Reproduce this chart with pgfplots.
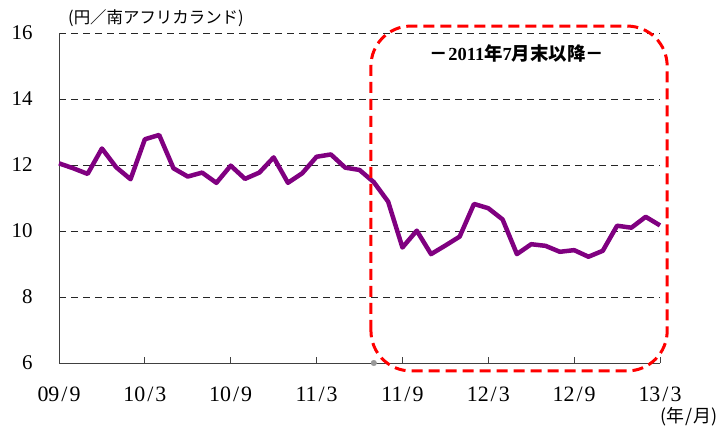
\documentclass[border=0pt]{standalone}
\usepackage{fontspec}
\setmainfont{Liberation Serif}
\newfontfamily\cjk{Noto Sans CJK JP}
\usepackage{pgfplots}
\pgfplotsset{compat=1.18}
\definecolor{lineP}{RGB}{128,0,128}
\newcommand{\ymsl}{\kern2bp/\kern2bp}
\begin{document}
\begin{tikzpicture}[x=1bp,y=1bp]
\path[use as bounding box] (0,0) rectangle (720,428);
\begin{axis}[at={(59bp,65bp)}, anchor=south west, scale only axis,
  width=601bp, height=330bp,
  xmin=0, xmax=42, ymin=6, ymax=16,
  axis lines=left,
  axis line style={-, black!75, line width=0.8bp},
  ytick={6,8,...,16},
  xtick={0,6,...,42},
  xticklabels={09\ymsl9,10\ymsl3,10\ymsl9,11\ymsl3,11\ymsl9,12\ymsl3,12\ymsl9,13\ymsl3},
  ymajorgrids,
  grid style={black!85, dash pattern=on 7bp off 5bp, line width=0.7bp},
  xtick align=inside,
  major tick length=6bp,
  xtick style={black!75, line width=0.8bp},
  ytick style={draw=none},
  xticklabel style={font=\fontsize{22}{22}\selectfont, yshift=-20bp},
  yticklabel style={font=\fontsize{21}{21}\selectfont, xshift=-20bp},
  /pgf/number format/assume math mode=true,
  clip=false]
\addplot[lineP, line width=4.5bp, line join=round] coordinates {
(0,12.05) (1,11.9) (2,11.73) (3,12.5) (4,11.93) (5,11.57) (6,12.78) (7,12.91)
(8,11.9) (9,11.65) (10,11.77) (11,11.46) (12,11.98) (13,11.58) (14,11.77)
(15,12.23) (16,11.46) (17,11.75) (18,12.25) (19,12.32) (20,11.92) (21,11.85)
(22,11.48) (23,10.89) (24,9.5) (25,10.01) (26,9.3) (27,9.56) (28,9.83)
(29,10.82) (30,10.69) (31,10.35) (32,9.3) (33,9.6) (34,9.55) (35,9.37)
(36,9.42) (37,9.22) (38,9.4) (39,10.16) (40,10.1) (41,10.43) (42,10.17)
};
\addplot[only marks, mark=*, mark size=2.8bp, color=black!40] coordinates {(22,6)};
\draw[red, line width=3bp, dash pattern=on 11bp off 6bp, rounded corners=40bp]
  (axis cs:21.8,5.76) rectangle (axis cs:42.5,16.21);
\end{axis}
\node[anchor=west, inner sep=0] at (68,410) {\cjk\fontsize{16.5}{16.5}\selectfont (円／南アフリカランド)};
\node[anchor=east, inner sep=0] at (718,11) {\cjk\fontsize{18}{18}\selectfont (年\kern1bp/\kern1bp月)};
\node[inner sep=0] at (517,375) {\bfseries\fontsize{18.5}{18.5}\selectfont{\cjk －}2011{\cjk 年}7{\cjk 月末以降－}};
\end{tikzpicture}
\end{document}
